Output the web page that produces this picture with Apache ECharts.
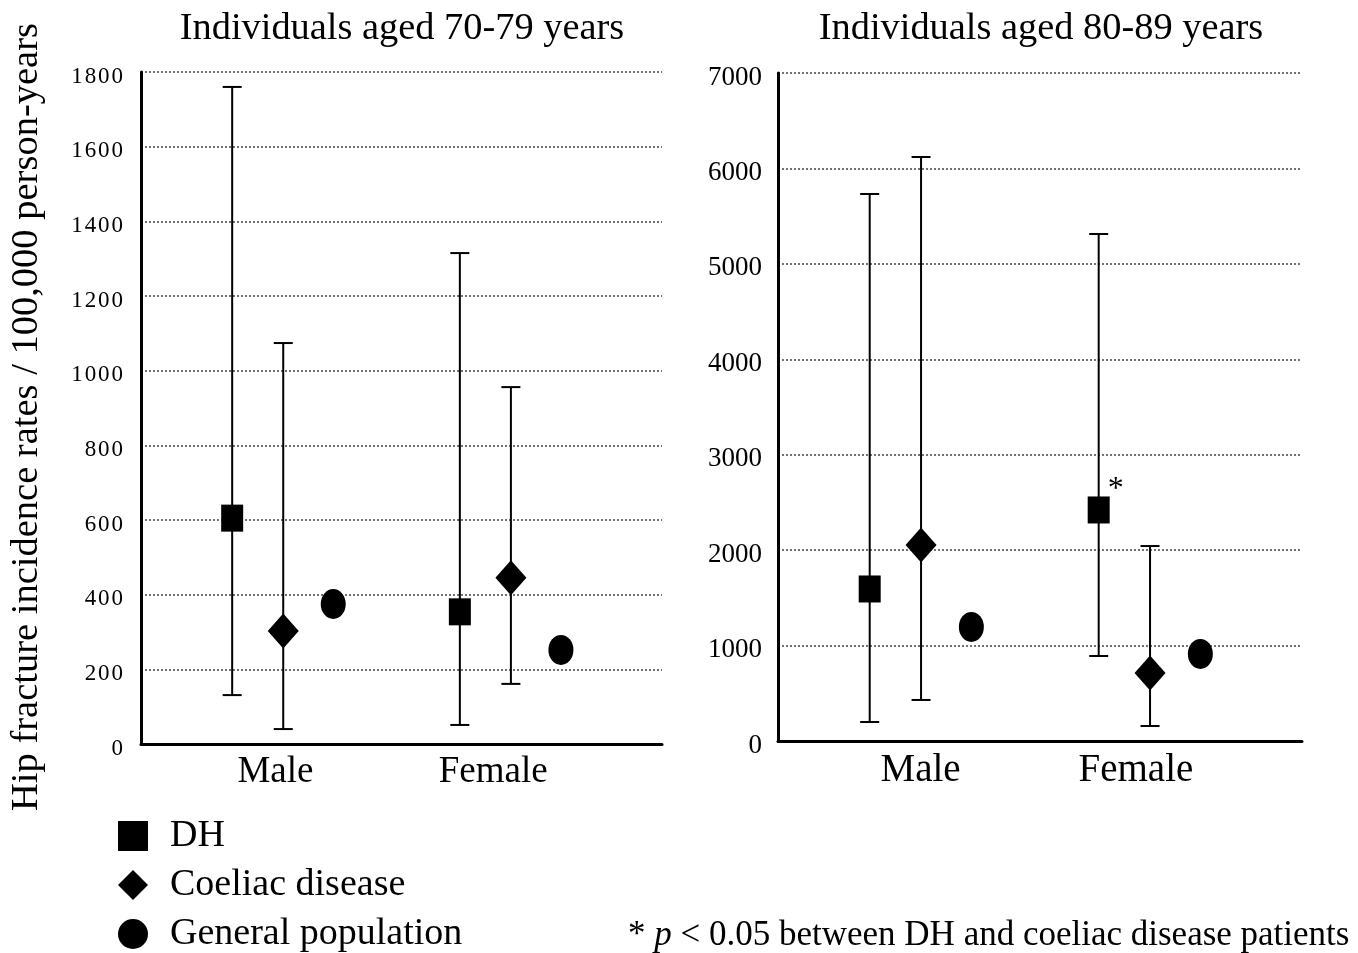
<!DOCTYPE html>
<html>
<head>
<meta charset="utf-8">
<title>Hip fracture incidence rates</title>
<script src="https://cdn.jsdelivr.net/npm/echarts@6/dist/echarts.min.js"></script>
<style>
    html, body { margin: 0; padding: 0; background: #fff; }
    #chart { width: 1358px; height: 953px; }
</style>
</head>
<body>
<div id="chart"></div>
<script>
// categories and series
const groups = ["Male", "Female"];
const seriesNames = ["DH", "Coeliac disease", "General population"];
const panelTitles = ["Individuals aged 70-79 years", "Individuals aged 80-89 years"];

// 70-79 years (rate per 100,000 person-years, with 95% CI)
const dh7079 = [605, 354];
const dh7079Low = [131, 51];
const dh7079High = [1760, 1315];
const cd7079 = [303, 445];
const cd7079Low = [40, 161];
const cd7079High = [1074, 956];
const gp7079 = [375, 252];

// 80-89 years
const dh8089 = [1593, 2421];
const dh8089Low = [199, 891];
const dh8089High = [5732, 5313];
const cd8089 = [2054, 713];
const cd8089Low = [430, 157];
const cd8089High = [6120, 2043];
const gp8089 = [1195, 912];
const dhMarks8089 = ["", "*"];

// y axis ranges
const yMax = [1800, 7000];
const yStep = [200, 1000];

// horizontal layout on a 0-100 scale inside each plot
const groupX = [27.3, 71];
const seriesOffset = [-9.8, 0, 9.6];
const labelX = [[25.8, 67.6], [27.2, 68.3]];

const font = "'Liberation Serif', 'Times New Roman', serif";
const symbols = ["rect", "diamond", "circle"];
const symbolSizes = [[22, 27], [31, 35], [25, 30]];

const xOf = (g, s) => groupX[g] + seriesOffset[s];

function errorBar(params, api) {
    const top = api.coord([api.value(0), api.value(2)]);
    const bottom = api.coord([api.value(0), api.value(1)]);
    const half = 9.5;
    const style = { stroke: "#000", lineWidth: 2 };
    return {
        type: "group",
        children: [
            { type: "line", shape: { x1: top[0], y1: top[1], x2: bottom[0], y2: bottom[1] }, style },
            { type: "line", shape: { x1: top[0] - half, y1: top[1], x2: top[0] + half, y2: top[1] }, style },
            { type: "line", shape: { x1: bottom[0] - half, y1: bottom[1], x2: bottom[0] + half, y2: bottom[1] }, style },
        ],
    };
}

const panels = [
    { values: [dh7079, cd7079, gp7079], low: [dh7079Low, cd7079Low], high: [dh7079High, cd7079High], marks: ["", ""] },
    { values: [dh8089, cd8089, gp8089], low: [dh8089Low, cd8089Low], high: [dh8089High, cd8089High], marks: dhMarks8089 },
];

const series = [];
panels.forEach((panel, p) => {
    // error bars for DH and coeliac disease
    const bars = [];
    panel.low.forEach((lowArr, s) => {
        groups.forEach((g, gi) => {
            bars.push([xOf(gi, s), lowArr[gi], panel.high[s][gi]]);
        });
    });
    series.push({
        type: "custom",
        name: "CI" + p,
        xAxisIndex: p,
        yAxisIndex: p,
        renderItem: errorBar,
        encode: { x: 0, y: [1, 2] },
        data: bars,
        silent: true,
        z: 1,
    });
    panel.values.forEach((vals, s) => {
        series.push({
            type: "scatter",
            name: seriesNames[s],
            xAxisIndex: p,
            yAxisIndex: p,
            symbol: symbols[s],
            symbolSize: symbolSizes[s],
            itemStyle: { color: "#000", opacity: 1 },
            silent: true,
            z: 3,
            data: vals.map((v, gi) => {
                const item = { value: [xOf(gi, s), v] };
                if (s === 0 && panel.marks[gi]) {
                    item.label = {
                        show: true,
                        formatter: panel.marks[gi],
                        position: "right",
                        distance: -2,
                        offset: [0, -20],
                        color: "#000",
                        fontFamily: font,
                        fontSize: 32,
                    };
                }
                return item;
            }),
        });
    });
});

const grids = [
    { left: 141, right: 696, top: 72, bottom: 209 },
    { left: 778, right: 56, top: 73, bottom: 212 },
];

const xAxes = grids.map((g, p) => ({
    type: "value",
    gridIndex: p,
    min: 0,
    max: 100,
    axisLine: { show: true, onZero: false, lineStyle: { color: "#000", width: 3 } },
    axisTick: { show: false },
    splitLine: { show: false },
    axisLabel: {
        customValues: labelX[p],
        formatter: (v) => groups[labelX[p].indexOf(v)] || "",
        color: "#000",
        fontFamily: font,
        fontSize: p === 0 ? 37 : 39,
        margin: 10,
    },
}));

const yAxes = grids.map((g, p) => ({
    type: "value",
    gridIndex: p,
    min: 0,
    max: yMax[p],
    interval: yStep[p],
    name: p === 0 ? "Hip fracture incidence rates / 100,000 person-years" : "",
    nameLocation: "middle",
    nameGap: 95,
    nameTextStyle: { color: "#000", fontFamily: font, fontSize: 38.5, padding: [0, 18, 0, 0] },
    axisLine: { show: true, lineStyle: { color: "#000", width: 3 } },
    axisTick: { show: false },
    splitLine: { show: true, lineStyle: { color: "#444", width: 1.5, type: [2, 2] } },
    axisLabel: {
        color: "#000",
        fontFamily: font,
        fontSize: p === 0 ? 23 : 27,
        margin: p === 0 ? 18 : 16,
        verticalAlign: "top",
        lineHeight: 9,
        formatter: (v) => (p === 0 ? String(v).split("").join("\u200A") : String(v)),
    },
}));

const option = {
    backgroundColor: "#fff",
    animation: false,
    title: panelTitles.map((t, p) => ({
        text: t,
        left: p === 0 ? 397 : 1036,
        textAlign: "center",
        top: 5,
        textStyle: { color: "#000", fontFamily: font, fontSize: 38.4, fontWeight: "normal" },
    })),
    legend: {
        data: seriesNames,
        orient: "vertical",
        left: 118,
        top: 817,
        height: 140,
        padding: 0,
        itemWidth: 30,
        itemHeight: 30,
        itemGap: 11,
        selectedMode: false,
        textStyle: { color: "#000", fontFamily: font, fontSize: 38, lineHeight: 38, padding: [0, 0, 0, 17] },
    },
    grid: grids,
    xAxis: xAxes,
    yAxis: yAxes,
    series,
    graphic: [
        {
            type: "text",
            left: 628,
            top: 918,
            style: {
                text: "* {i|p} < 0.05 between DH and coeliac disease patients",
                fill: "#000",
                font: "35px " + font,
                rich: { i: { fontStyle: "italic", fontFamily: font, fontSize: 35, fill: "#000" } },
            },
        },
    ],
};

const chart = echarts.init(document.getElementById("chart"), null, { renderer: "canvas" });
chart.setOption(option);
</script>
</body>
</html>
